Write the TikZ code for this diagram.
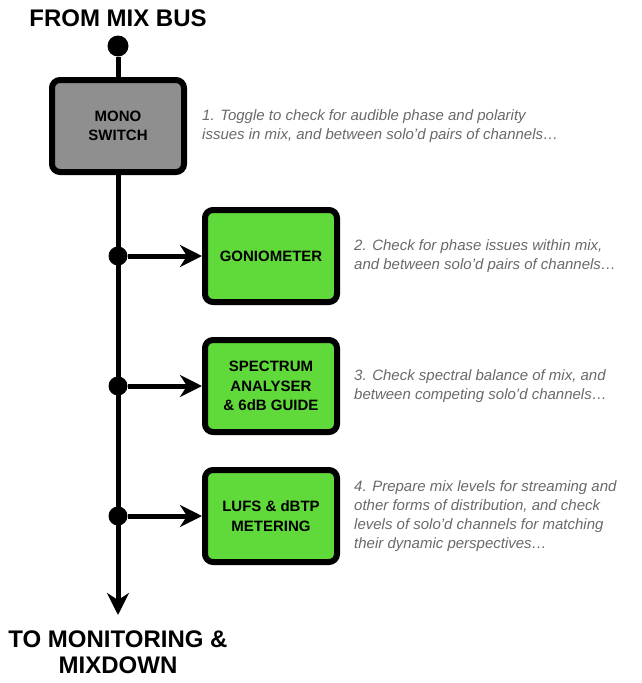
\documentclass[tikz,border=0pt]{standalone}
\usepackage{fontspec}
\setmainfont{Liberation Sans}
\usepackage{xcolor}
\usetikzlibrary{arrows.meta,positioning}

\definecolor{metergreen}{RGB}{96,218,58}
\definecolor{switchgrey}{RGB}{143,143,143}
\definecolor{notegrey}{RGB}{105,105,105}

\begin{document}
\begin{tikzpicture}[
    x=1pt, y=-1pt,
    box/.style={rectangle, draw, line width=6pt, rounded corners=8pt, minimum width=132pt, minimum height=92pt, align=center, font=\fontsize{15}{19.5}\selectfont\bfseries},
    note/.style={inner sep=0pt, align=left, text=notegrey, font=\fontsize{15}{19}\selectfont\itshape},
    heading/.style={align=center, font=\fontsize{24}{26}\selectfont\bfseries},
    joint/.style={circle, fill, inner sep=0pt, minimum size=19pt},
    bus/.style={line width=5pt},
    feed/.style={line width=5pt, -{Stealth[length=22pt,width=22pt,inset=7pt]}},
]
\useasboundingbox (0,0) rectangle (642,683);

% Input
\node[heading] (frombus) at (118,18) {FROM MIX BUS};
\node[joint, minimum size=21pt] (indot) at (118,46) {};

% Mono switch
\node[box, fill=switchgrey] (mono) at (118,126) {MONO\\SWITCH};
\node[note, right=15pt of mono] (note1) {1. Toggle to check for audible phase and polarity\\issues in mix, and between solo’d pairs of channels…};

% Meters
\node[box, fill=metergreen] (gonio) at (271,256) {GONIOMETER};
\node[box, fill=metergreen] (spectrum) at (271,386) {SPECTRUM\\ANALYSER\\\& 6dB GUIDE};
\node[box, fill=metergreen] (lufs) at (271,516) {LUFS \& dBTP\\METERING};

\node[note, right=14pt of gonio] (note2) {2. Check for phase issues within mix,\\and between solo’d pairs of channels…};
\node[note, right=14pt of spectrum] (note3) {3. Check spectral balance of mix, and\\between competing solo’d channels…};
\node[note, right=14pt of lufs] (note4) {4. Prepare mix levels for streaming and\\other forms of distribution, and check\\levels of solo’d channels for matching\\their dynamic perspectives…};

% Bus line
\coordinate (out) at (118,615);
\draw[bus] (indot) -- (mono);
\draw[feed] (mono) -- (out);

% Branches
\node[joint] (j1) at (118,256) {};
\node[joint] (j2) at (118,386) {};
\node[joint] (j3) at (118,516) {};
\draw[feed] (j1) -- (gonio);
\draw[feed] (j2) -- (spectrum);
\draw[feed] (j3) -- (lufs);

% Output
\node[heading] (tomon) at (118,652) {TO MONITORING \&\\MIXDOWN};

\end{tikzpicture}
\end{document}
